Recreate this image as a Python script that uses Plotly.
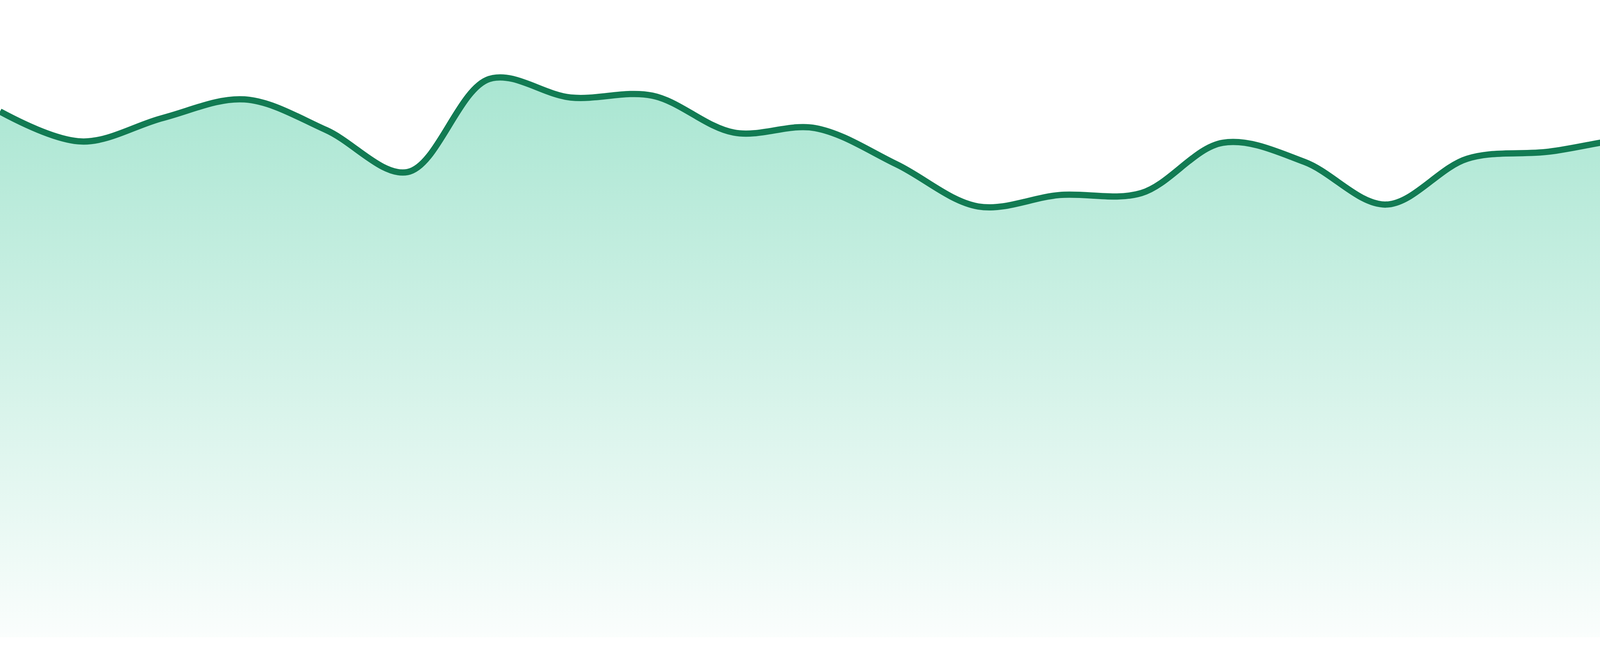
import plotly.graph_objects as go

# daily index, one point per day
day = list(range(24))

# values (axis hidden, 0..100 scale)
value = [82.5, 77.8, 81.5, 84.4, 79.6, 73.0, 87.6, 84.7, 85.0, 79.2, 79.9, 74.2,
         67.6, 69.4, 69.7, 77.6, 74.6, 67.9, 75.1, 76.2, 78.3, 78.6, 78.0, 73.8]

lineColor = '#127b53'

fig = go.Figure(go.Scatter(
    x=day,
    y=value,
    mode='lines',
    line={'color': lineColor, 'width': 16, 'shape': 'spline', 'smoothing': 1},
    fill='tozeroy',
    fillgradient={'type': 'vertical',
                  'start': 0,
                  'stop': 87.6,
                  'colorscale': [[0, 'rgba(16,185,129,0.02)'],
                                 [1, 'rgba(16,185,129,0.36)']]},
    hoverinfo='skip'))

fig.update_layout(
    width=4800,
    height=1680,
    showlegend=False,
    paper_bgcolor='white',
    plot_bgcolor='white',
    margin={'l': 0, 'r': 0, 't': 0, 'b': 48},
    xaxis={'visible': False, 'range': [0, 23], 'fixedrange': True},
    yaxis={'visible': False, 'range': [0, 100], 'fixedrange': True})

# page body has a default margin, drop it so the chart sits flush in the window
fig.write_html("out.html",
               config={'displayModeBar': False},
               post_script="document.body.style.margin='0';document.body.style.overflow='hidden';")
